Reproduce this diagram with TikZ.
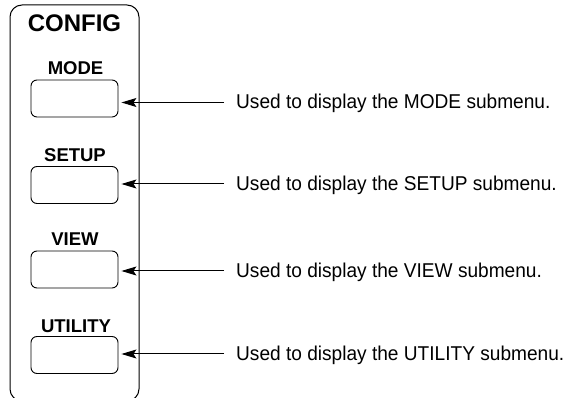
\documentclass[tikz,border=0pt]{standalone}
\usepackage{fontspec}
\setmainfont{Liberation Sans}
\newfontfamily\condf[FakeStretch=0.955]{Liberation Sans}
\usetikzlibrary{arrows.meta}
\tikzset{
  panel/.style={draw=black, line width=1pt, rounded corners=12pt},
  btn/.style={draw=black, line width=0.9pt, rounded corners=6pt, minimum width=87pt, minimum height=37pt, inner sep=0pt},
  lbl/.style={font=\bfseries\fontsize{18.5}{20}\selectfont, anchor=base, inner sep=0pt},
  desc/.style={font=\condf\fontsize{20}{22}\selectfont, anchor=base west, inner sep=0pt},
  arr/.style={line width=1pt, -{Stealth[length=15pt,width=9pt,inset=3pt]}, shorten >=3pt}
}
\begin{document}
\begin{tikzpicture}[x=1pt,y=-1pt]
\useasboundingbox (0,0) rectangle (574,398);
\begin{scope}
\clip (0,0) rectangle (574,398);
\draw[panel] (10,5) rectangle (139,401);
\end{scope}
\node[font=\bfseries\fontsize{24}{26}\selectfont, anchor=base, inner sep=0pt] (cfg) at (74.5,32) {CONFIG};
\node[lbl] (l1) at (75.5,75) {MODE};
\node[lbl] (l2) at (75,162) {SETUP};
\node[lbl] (l3) at (75,246) {VIEW};
\node[lbl] (l4) at (76,333) {UTILITY};
\node[btn] (b1) at (74.5,98.5) {};
\node[btn] (b2) at (74.5,185) {};
\node[btn] (b3) at (74.5,269.5) {};
\node[btn] (b4) at (74.5,355) {};
\node[desc] (t1) at (236,109) {Used to display the MODE submenu.};
\node[desc] (t2) at (236,191) {Used to display the SETUP submenu.};
\node[desc] (t3) at (236,277.5) {Used to display the VIEW submenu.};
\node[desc] (t4) at (236,361) {Used to display the UTILITY submenu.};
\coordinate (c1) at (224,102.5);
\coordinate (c2) at (224,184);
\coordinate (c3) at (224,271);
\coordinate (c4) at (224,354);
\draw[arr] (c1) -- (b1.east |- c1);
\draw[arr] (c2) -- (b2.east |- c2);
\draw[arr] (c3) -- (b3.east |- c3);
\draw[arr] (c4) -- (b4.east |- c4);
\end{tikzpicture}
\end{document}
